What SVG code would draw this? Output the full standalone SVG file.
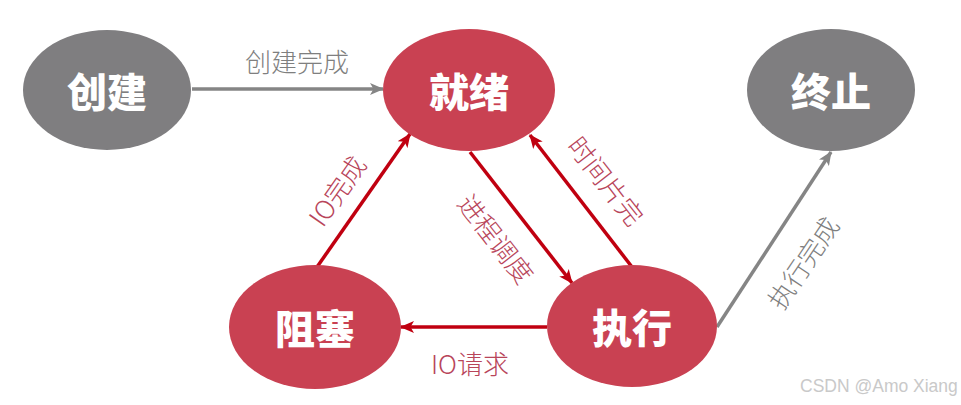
<svg xmlns="http://www.w3.org/2000/svg" width="961" height="405" viewBox="0 0 961 405">
  <defs>
    <style>
      .gray { fill: #7f7e80; }
      .red { fill: #c94152; }
      .node-text { fill: #ffffff; font-family: "Noto Sans CJK SC", "Noto Sans", sans-serif; font-weight: 900; font-size: 40px; text-anchor: middle; dominant-baseline: central; }
      .lbl { font-family: "Noto Sans CJK SC", "Noto Sans", sans-serif; font-size: 26px; font-weight: 300; text-anchor: middle; dominant-baseline: central; }
      .lbl-gray { fill: #7f7f7f; }
      .lbl-red { fill: #b8455a; }
      .conn-red { stroke: #c00010; stroke-width: 3.5; fill: none; }
      .conn-gray { stroke: #858585; stroke-width: 3.5; fill: none; }
      .wm { fill: #c9c9c9; font-family: "Liberation Sans", "Noto Sans", sans-serif; font-size: 17.5px; }
    </style>
    <marker id="arrRed" markerUnits="userSpaceOnUse" markerWidth="14" markerHeight="12" refX="13" refY="6" orient="auto">
      <path d="M0,0 L14,6 L0,12 L3.5,6 Z" fill="#c00010"/>
    </marker>
    <marker id="arrGray" markerUnits="userSpaceOnUse" markerWidth="14" markerHeight="12" refX="13" refY="6" orient="auto">
      <path d="M0,0 L14,6 L0,12 L3.5,6 Z" fill="#858585"/>
    </marker>
  </defs>
  <rect width="961" height="405" fill="#ffffff"/>

  <g id="connectors">
    <line class="conn-gray" x1="192" y1="89" x2="383" y2="89" marker-end="url(#arrGray)"/>
    <line class="conn-red" x1="317" y1="267" x2="410" y2="134" marker-end="url(#arrRed)"/>
    <line class="conn-red" x1="470" y1="152" x2="572" y2="283" marker-end="url(#arrRed)"/>
    <line class="conn-red" x1="632" y1="267" x2="530" y2="135" marker-end="url(#arrRed)"/>
    <line class="conn-red" x1="547" y1="327" x2="401" y2="327" marker-end="url(#arrRed)"/>
    <line class="conn-gray" x1="717" y1="327" x2="831" y2="152" marker-end="url(#arrGray)"/>

    <text class="lbl lbl-gray" x="297" y="60">创建完成</text>
    <text class="lbl lbl-red" transform="translate(336,190) rotate(-55)">IO完成</text>
    <text class="lbl lbl-red" transform="translate(497,238) rotate(52)">进程调度</text>
    <text class="lbl lbl-red" transform="translate(607,180) rotate(52)">时间片完</text>
    <text class="lbl lbl-red" x="470" y="362">IO请求</text>
    <text class="lbl lbl-gray" transform="translate(802,262) rotate(-56)">执行完成</text>
  </g>

  <g id="node-create">
    <ellipse class="gray" cx="107" cy="90" rx="84" ry="60"/>
    <text class="node-text" x="107" y="90">创建</text>
  </g>
  <g id="node-ready">
    <ellipse class="red" cx="469" cy="90" rx="86" ry="61"/>
    <text class="node-text" x="469" y="90">就绪</text>
  </g>
  <g id="node-terminate">
    <ellipse class="gray" cx="831" cy="90" rx="84" ry="61"/>
    <text class="node-text" x="831" y="90">终止</text>
  </g>
  <g id="node-blocked">
    <ellipse class="red" cx="315" cy="327" rx="86" ry="62"/>
    <text class="node-text" x="315" y="327">阻塞</text>
  </g>
  <g id="node-running">
    <ellipse class="red" cx="632" cy="326" rx="85" ry="61"/>
    <text class="node-text" x="632" y="326">执行</text>
  </g>

  <text class="wm" x="800" y="392">CSDN @Amo Xiang</text>
</svg>
